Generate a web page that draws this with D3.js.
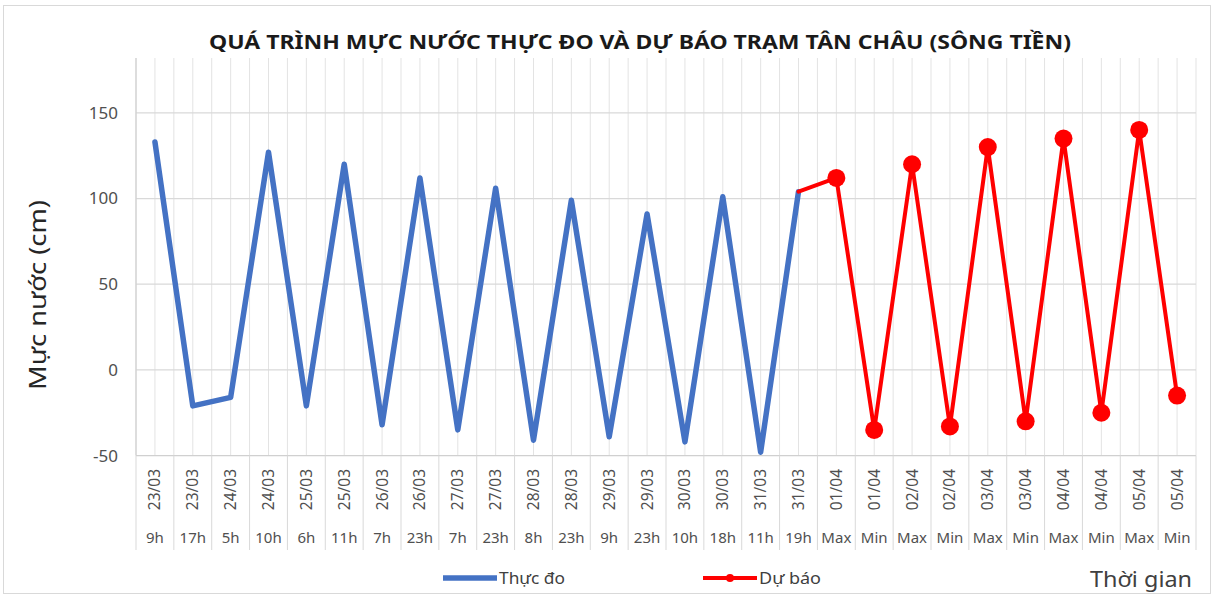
<!DOCTYPE html>
<html>
<head>
<meta charset="utf-8">
<script src="https://cdn.jsdelivr.net/npm/d3@7"></script>
<style>
  html, body { margin: 0; padding: 0; background: #ffffff; }
  svg { display: block; }
  text { font-family: "Noto Sans", "Open Sans", sans-serif; }
</style>
</head>
<body>
<svg id="chart" width="1217" height="599"></svg>
<script>
// ---- data ----
const dateLabels = ["23/03","23/03","24/03","24/03","25/03","25/03","26/03","26/03","27/03","27/03",
  "28/03","28/03","29/03","29/03","30/03","30/03","31/03","31/03",
  "01/04","01/04","02/04","02/04","03/04","03/04","04/04","04/04","05/04","05/04"];
const hourLabels = ["9h","17h","5h","10h","6h","11h","7h","23h","7h","23h",
  "8h","23h","9h","23h","10h","18h","11h","19h",
  "Max","Min","Max","Min","Max","Min","Max","Min","Max","Min"];
const observedValues = [133,-21,-16,127,-21,120,-32,112,-35,106,-41,99,-39,91,-42,101,-48,104];
const forecastValues = [112,-35,120,-33,130,-30,135,-25,140,-15];
const yTickValues = [-50, 0, 50, 100, 150];
const titleText = "QUÁ TRÌNH MỰC NƯỚC THỰC ĐO VÀ DỰ BÁO TRẠM TÂN CHÂU (SÔNG TIỀN)";
const yTitle = "Mực nước (cm)";
const xTitle = "Thời gian";
const seriesNames = ["Thực đo", "Dự báo"];

// ---- layout ----
const svg = d3.select("#chart");
const plot = { left: 136, right: 1196, top: 58, bottom: 455.6 };
const blue = "#4472C4", red = "#FF0000";

svg.append("rect").attr("x", 3.5).attr("y", 5.5).attr("width", 1207).attr("height", 588)
  .attr("fill", "#fff").attr("stroke", "#d9d9d9").attr("stroke-width", 1);

const idx = d3.range(dateLabels.length);
const x = d3.scaleBand().domain(idx).range([plot.left, plot.right]).padding(0);
const y = d3.scaleLinear().domain([-50, 182]).range([plot.bottom, plot.top]);
const cx = i => x(i) + x.bandwidth() / 2;

// vertical gridlines (category boundaries and centers)
const g = svg.append("g");
const vlines = [];
idx.forEach(i => { vlines.push(x(i)); vlines.push(cx(i)); });
vlines.push(plot.right);
g.selectAll("line.v").data(vlines).join("line")
  .attr("x1", d => d).attr("x2", d => d)
  .attr("y1", plot.top).attr("y2", plot.bottom)
  .attr("stroke", "#e3e3e3").attr("stroke-width", 1);

// horizontal gridlines
g.selectAll("line.h").data(yTickValues.filter(v => v > -50)).join("line")
  .attr("x1", plot.left).attr("x2", plot.right)
  .attr("y1", d => y(d)).attr("y2", d => y(d))
  .attr("stroke", "#d9d9d9").attr("stroke-width", 1.2);

// axis lines
svg.append("line").attr("x1", plot.left).attr("x2", plot.left)
  .attr("y1", plot.top).attr("y2", plot.bottom).attr("stroke", "#d0d0d0").attr("stroke-width", 1.2);
svg.append("line").attr("x1", plot.left).attr("x2", plot.right)
  .attr("y1", plot.bottom).attr("y2", plot.bottom).attr("stroke", "#d0d0d0").attr("stroke-width", 1.2);

// category separators below the axis
svg.append("g").selectAll("line").data(idx.concat([idx.length])).join("line")
  .attr("x1", i => i < idx.length ? x(i) : plot.right)
  .attr("x2", i => i < idx.length ? x(i) : plot.right)
  .attr("y1", plot.bottom).attr("y2", 550)
  .attr("stroke", "#d9d9d9").attr("stroke-width", 1);

// y axis labels
const yAxis = svg.append("g").attr("transform", `translate(${plot.left - 18},0)`)
  .call(d3.axisLeft(y).tickValues(yTickValues).tickSize(0).tickPadding(0)
    .tickFormat(d => String(d)));
yAxis.select(".domain").remove();
yAxis.selectAll("text").attr("font-size", 17).attr("fill", "#505050")
  .attr("font-family", "'Noto Sans', sans-serif");

// x axis: date labels rotated
const xAxis = svg.append("g").attr("transform", `translate(0,${plot.bottom})`)
  .call(d3.axisBottom(x).tickSize(0).tickFormat(i => dateLabels[i]));
xAxis.select(".domain").remove();
xAxis.selectAll("text")
  .attr("font-size", 15.5).attr("fill", "#505050").attr("font-family", "'Noto Sans', sans-serif")
  .attr("transform", "rotate(-90)")
  .attr("x", -34).attr("y", 0).attr("dy", "0.35em")
  .attr("text-anchor", "middle");

// hour labels
svg.append("g").selectAll("text").data(idx).join("text")
  .attr("x", i => cx(i)).attr("y", 543)
  .attr("text-anchor", "middle").attr("font-size", 15).attr("fill", "#505050")
  .text(i => hourLabels[i]);

// series
const obsPts = observedValues.map((v, i) => [cx(i), y(v)]);
const lastObs = observedValues.length - 1;
const fcPts = [[cx(lastObs), y(observedValues[lastObs])]]
  .concat(forecastValues.map((v, k) => [cx(lastObs + 1 + k), y(v)]));
const line = d3.line();

svg.append("path").attr("d", line(obsPts)).attr("fill", "none")
  .attr("stroke", blue).attr("stroke-width", 5.5)
  .attr("stroke-linejoin", "round").attr("stroke-linecap", "round");
svg.append("path").attr("d", line(fcPts)).attr("fill", "none")
  .attr("stroke", red).attr("stroke-width", 4)
  .attr("stroke-linejoin", "round").attr("stroke-linecap", "round");
svg.append("g").selectAll("circle").data(fcPts.slice(1)).join("circle")
  .attr("cx", d => d[0]).attr("cy", d => d[1]).attr("r", 9).attr("fill", red);

// title
svg.append("text").attr("x", 640).attr("y", 49).attr("text-anchor", "middle")
  .attr("font-size", 20).attr("font-weight", "bold").attr("fill", "#1a1a1a")
  .attr("textLength", 862).attr("lengthAdjust", "spacingAndGlyphs")
  .text(titleText);

// y title
svg.append("text").attr("transform", "translate(46,295) rotate(-90)")
  .attr("text-anchor", "middle").attr("font-size", 23).attr("fill", "#262626")
  .attr("textLength", 190).attr("lengthAdjust", "spacingAndGlyphs")
  .text(yTitle);

// x title
svg.append("text").attr("x", 1192).attr("y", 587).attr("text-anchor", "end")
  .attr("font-size", 21).attr("fill", "#404040")
  .attr("textLength", 102).attr("lengthAdjust", "spacingAndGlyphs")
  .text(xTitle);

// legend
const leg = svg.append("g");
leg.append("line").attr("x1", 443).attr("x2", 497).attr("y1", 578).attr("y2", 578)
  .attr("stroke", blue).attr("stroke-width", 5.5);
leg.append("text").attr("x", 499).attr("y", 584).attr("font-size", 17).attr("fill", "#404040")
  .attr("textLength", 66).attr("lengthAdjust", "spacingAndGlyphs").text(seriesNames[0]);
leg.append("line").attr("x1", 703).attr("x2", 757).attr("y1", 578).attr("y2", 578)
  .attr("stroke", red).attr("stroke-width", 4);
leg.append("circle").attr("cx", 730).attr("cy", 578).attr("r", 4).attr("fill", red);
leg.append("text").attr("x", 759).attr("y", 584).attr("font-size", 17).attr("fill", "#404040")
  .attr("textLength", 62).attr("lengthAdjust", "spacingAndGlyphs").text(seriesNames[1]);
</script>
</body>
</html>
